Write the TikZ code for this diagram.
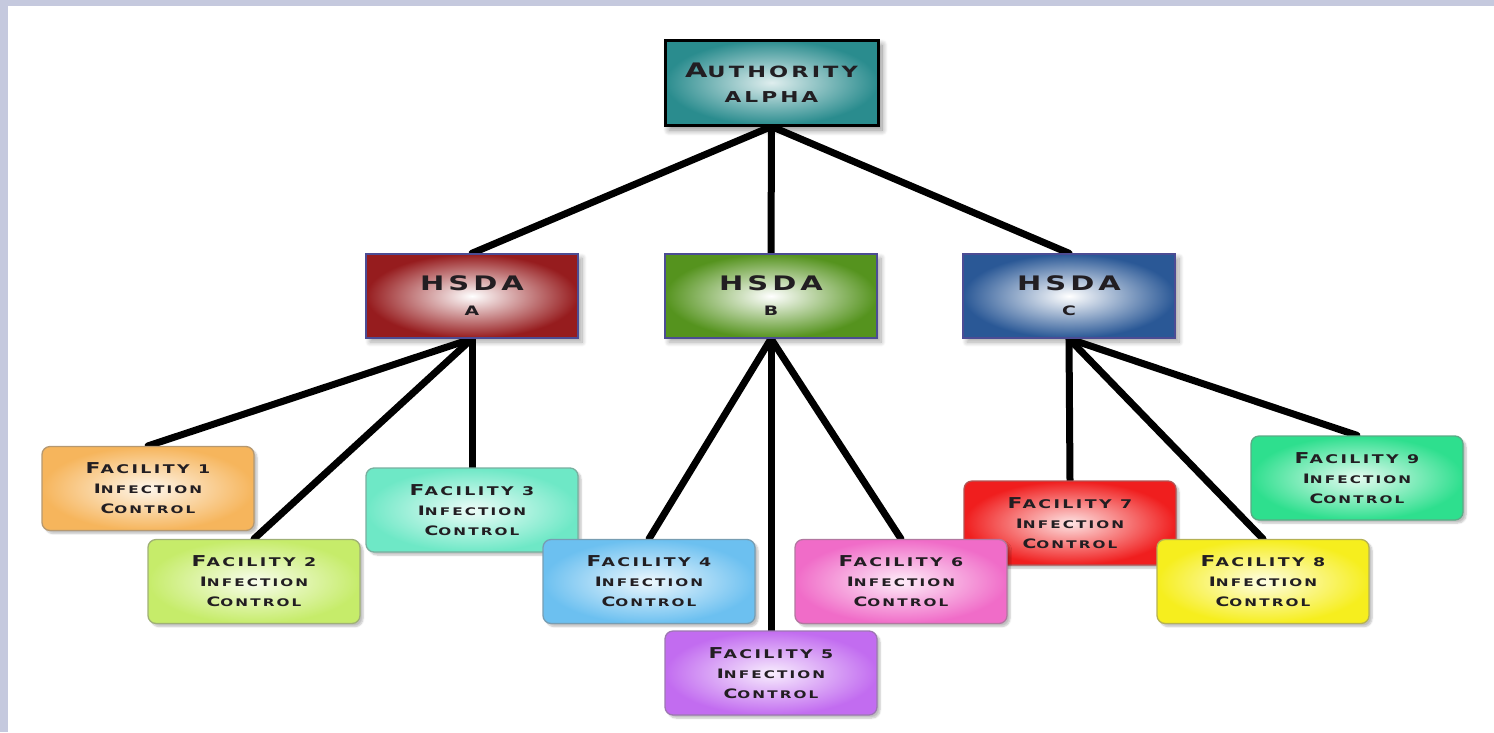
\documentclass[tikz,border=0pt]{standalone}
\usepackage{fontspec}
\usetikzlibrary{shadows,shadows.blur}
\newfontfamily\cpf{DejaVu Sans}[FakeStretch=1.45,LetterSpace=20]
\definecolor{lavstrip}{HTML}{C5C9DE}
\definecolor{txt}{HTML}{221E22}
\definecolor{cauth}{HTML}{2A8C8E}
\definecolor{cha}{HTML}{961C1E}
\definecolor{chb}{HTML}{55931E}
\definecolor{chc}{HTML}{2A5896}
\definecolor{cf1}{HTML}{F6B55C}
\definecolor{cf2}{HTML}{C6EC6A}
\definecolor{cf3}{HTML}{6EE8C6}
\definecolor{cf4}{HTML}{6CC0F0}
\definecolor{cf5}{HTML}{C26CF0}
\definecolor{cf6}{HTML}{F06CC8}
\definecolor{cf7}{HTML}{F01E1E}
\definecolor{cf8}{HTML}{F6EE1E}
\definecolor{cf9}{HTML}{2EDF8E}
\pgfdeclarelayer{lines}
\pgfsetlayers{lines,main}
\newcommand\tbig{\fontsize{20}{25}\selectfont}
\newcommand\tsml{\fontsize{15.5}{25}\selectfont}
\newcommand\hsml{\fontsize{13}{25}\selectfont}
\newcommand\fbig{\fontsize{15}{20}\selectfont}
\newcommand\fsml{\fontsize{12}{20}\selectfont}
\newcommand\sbig{\fontsize{13}{20}\selectfont}
\newcommand\ssml{\fontsize{10.5}{20}\selectfont}
\newcommand\fac[1]{\fbig F\fsml ACILITY #1\\\sbig I\ssml NFECTION\\\sbig C\ssml ONTROL}
\tikzset{
  conn/.style={line width=7pt,line cap=round,black},
  authbox/.style={draw=black,line width=3pt,minimum width=213pt,minimum height=85pt,inner sep=0pt,
    inner color=cauth!15,outer color=cauth,text=txt,align=center,font=\cpf\bfseries\fontsize{15}{25}\selectfont,
    blur shadow={shadow xshift=4pt,shadow yshift=-5pt,shadow blur radius=6pt,shadow blur steps=12,shadow opacity=45}},
  hsdabox/.style={draw=black!60!blue!70,line width=1.5pt,minimum width=212pt,minimum height=84pt,inner sep=0pt,
    inner color=white,outer color=#1,text=txt,align=center,font=\cpf\bfseries\fontsize{15}{25}\selectfont,
    blur shadow={shadow xshift=4pt,shadow yshift=-4pt,shadow blur radius=5pt,shadow blur steps=10,shadow opacity=35}},
  facbox/.style={draw=#1!45!gray,line width=1.3pt,rounded corners=8pt,minimum width=212pt,minimum height=84pt,inner sep=0pt,
    inner color=#1!12,outer color=#1,text=txt,align=center,font=\cpf\bfseries\fontsize{12}{20}\selectfont,
    blur shadow={shadow xshift=3pt,shadow yshift=-3pt,shadow blur steps=6,shadow opacity=25}}
}
\begin{document}
\begin{tikzpicture}[x=1pt,y=-1pt]
\useasboundingbox (0,0) rectangle (1494,732);
\node[authbox] (auth) at (771.5,82.5) {\tbig A\tsml UTHORITY\\ALPHA};
\node[hsdabox=cha] (ha) at (472,296) {\tbig HSDA\\\hsml A};
\node[hsdabox=chb] (hb) at (771,296) {\tbig HSDA\\\hsml B};
\node[hsdabox=chc] (hc) at (1069,296) {\tbig HSDA\\\hsml C};
\node[facbox=cf1] (f1) at (148,488.5) {\fac{1}};
\node[facbox=cf3] (f3) at (472,510) {\fac{3}};
\node[facbox=cf2] (f2) at (254,581.5) {\fac{2}};
\node[facbox=cf4] (f4) at (649,581.5) {\fac{4}};
\node[facbox=cf5] (f5) at (771,673) {\fac{5}};
\node[facbox=cf7] (f7) at (1070,523) {\fac{7}};
\node[facbox=cf6] (f6) at (901,581.5) {\fac{6}};
\node[facbox=cf9] (f9) at (1357,478) {\fac{9}};
\node[facbox=cf8] (f8) at (1263,581.5) {\fac{8}};
\begin{pgfonlayer}{lines}
\draw[conn] (auth.south) -- (ha.north);
\draw[conn] (auth.south) -- (hb.north);
\draw[conn] (auth.south) -- (hc.north);
\draw[conn] (ha.south) -- (f1.north);
\draw[conn] (ha.south) -- (f2.north);
\draw[conn] (ha.south) -- (f3.north);
\draw[conn] (hb.south) -- (f4.north);
\draw[conn] (hb.south) -- (f5.north);
\draw[conn] (hb.south) -- (f6.north);
\draw[conn] (hc.south) -- (f7.north);
\draw[conn] (hc.south) -- (f8.north);
\draw[conn] (hc.south) -- (f9.north);
\end{pgfonlayer}
\fill[lavstrip] (0,0) rectangle (1494,6);
\fill[lavstrip] (0,0) rectangle (8,732);
\end{tikzpicture}
\end{document}
